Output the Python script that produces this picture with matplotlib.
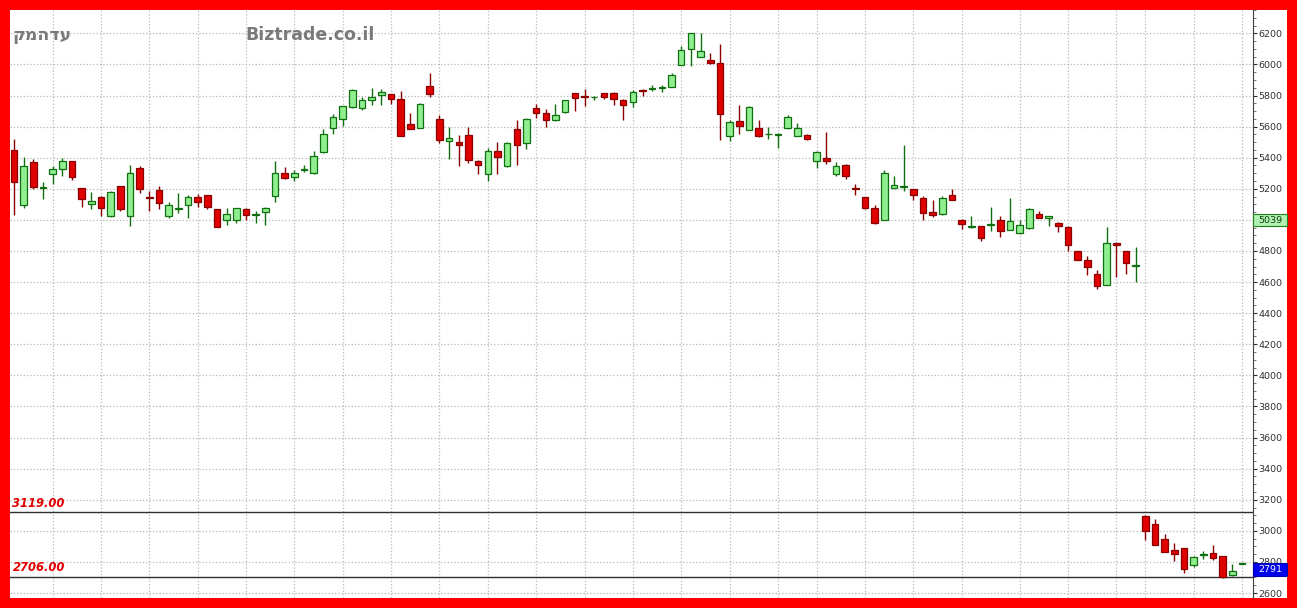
import numpy as np
import matplotlib.pyplot as plt
import matplotlib.transforms as mtransforms
from matplotlib.patches import Rectangle
from matplotlib.ticker import MultipleLocator

# OHLC values (one per session)
opens = [5452, 5097, 5372, 5204, 5295, 5327, 5376, 5202, 5101, 5150,
         5022, 5215, 5022, 5333, 5150, 5194, 5022, 5069, 5097, 5150,
         5159, 5069, 5000, 5000, 5071, 5032, 5049, 5155, 5301, 5275,
         5318, 5301, 5434, 5591, 5649, 5724, 5720, 5774, 5806, 5810,
         5780, 5615, 5593, 5860, 5647, 5507, 5499, 5544, 5380, 5292,
         5441, 5346, 5583, 5494, 5720, 5690, 5641, 5695, 5813, 5800,
         5790, 5813, 5819, 5770, 5759, 5836, 5839, 5847, 5856, 5996,
         6097, 6049, 6030, 6011, 5540, 5634, 5580, 5593, 5550, 5548,
         5593, 5542, 5548, 5378, 5400, 5292, 5353, 5204, 5146, 5077,
         4998, 5202, 5213, 5196, 5138, 5049, 5039, 5159, 5002, 4955,
         4959, 4970, 5002, 4937, 4916, 4948, 5041, 5013, 4981, 4953,
         4798, 4744, 4651, 4578, 4851, 4798, 4705, 3094, 3045, 2949,
         2874, 2891, 2781, 2846, 2859, 2837, 2715, 2787]
highs = [5520, 5402, 5391, 5241, 5344, 5396, 5381, 5204, 5178, 5155,
         5189, 5221, 5355, 5348, 5189, 5215, 5112, 5176, 5157, 5166,
         5161, 5071, 5075, 5075, 5075, 5058, 5086, 5376, 5338, 5318,
         5355, 5441, 5585, 5681, 5735, 5843, 5791, 5849, 5843, 5810,
         5832, 5690, 5752, 5942, 5677, 5598, 5544, 5598, 5383, 5462,
         5501, 5501, 5641, 5658, 5748, 5716, 5748, 5774, 5817, 5841,
         5800, 5817, 5824, 5776, 5834, 5843, 5867, 5867, 5948, 6118,
         6204, 6200, 6071, 6129, 5641, 5738, 5731, 5641, 5598, 5561,
         5673, 5626, 5555, 5441, 5565, 5372, 5357, 5228, 5148, 5094,
         5320, 5282, 5482, 5200, 5153, 5131, 5153, 5200, 5006, 5024,
         4963, 5082, 5028, 5142, 5002, 5077, 5060, 5028, 4985, 4959,
         4802, 4770, 4679, 4955, 4856, 4802, 4823, 3103, 3073, 2981,
         2923, 2891, 2835, 2869, 2910, 2841, 2788, 2794]
lows = [5032, 5075, 5198, 5133, 5232, 5284, 5254, 5082, 5069, 5026,
        5017, 5060, 4963, 5172, 5060, 5071, 5011, 5047, 5015, 5086,
        5071, 4953, 4968, 4978, 5000, 4978, 4968, 5114, 5264, 5247,
        5305, 5297, 5430, 5555, 5606, 5720, 5705, 5737, 5737, 5746,
        5537, 5587, 5593, 5791, 5497, 5393, 5346, 5365, 5292, 5247,
        5292, 5340, 5350, 5458, 5658, 5598, 5636, 5690, 5699, 5731,
        5770, 5776, 5738, 5645, 5727, 5796, 5830, 5824, 5856, 5996,
        5991, 6049, 6000, 5512, 5507, 5550, 5576, 5533, 5523, 5462,
        5583, 5537, 5516, 5333, 5361, 5282, 5260, 5159, 5071, 4974,
        4998, 5202, 5189, 5127, 4998, 5019, 5034, 5125, 4942, 4950,
        4862, 4931, 4890, 4937, 4912, 4942, 5009, 4959, 4922, 4798,
        4740, 4647, 4555, 4578, 4632, 4654, 4598, 2944, 2906, 2863,
        2809, 2730, 2766, 2820, 2814, 2698, 2711, 2786]
closes = [5241, 5344, 5209, 5212, 5327, 5381, 5275, 5133, 5123, 5075,
          5178, 5069, 5301, 5200, 5140, 5108, 5097, 5075, 5150, 5114,
          5080, 4957, 5037, 5075, 5032, 5039, 5075, 5301, 5269, 5301,
          5329, 5408, 5555, 5662, 5731, 5838, 5774, 5791, 5823, 5778,
          5537, 5587, 5748, 5809, 5512, 5529, 5482, 5383, 5355, 5441,
          5404, 5497, 5479, 5647, 5690, 5641, 5677, 5770, 5781, 5793,
          5792, 5793, 5776, 5742, 5824, 5828, 5847, 5854, 5931, 6092,
          6204, 6086, 6006, 5679, 5630, 5602, 5727, 5540, 5552, 5555,
          5662, 5591, 5518, 5436, 5378, 5346, 5282, 5200, 5075, 4978,
          5303, 5224, 5221, 5159, 5045, 5034, 5138, 5127, 4974, 4963,
          4882, 4972, 4927, 4996, 4970, 5067, 5013, 5024, 4959, 4841,
          4744, 4694, 4572, 4851, 4841, 4722, 4708, 2998, 2906, 2863,
          2852, 2756, 2831, 2852, 2826, 2706, 2739, 2791]

grid_idx = [4, 9, 14, 19, 24, 29, 34, 39, 44, 49, 54, 59, 64, 69, 74, 79,
            83, 88, 93, 98, 104, 109, 114, 117, 122, 127]
levels = [3119.00, 2706.00]
last_labels = [(5039, '5039'), (2791, '2791')]

W, H = 1297, 608
fig = plt.figure(figsize=(W / 100, H / 100), dpi=100)
fig.patch.set_facecolor('#ff0000')
fig.add_artist(Rectangle((10 / W, 10 / H), 1277 / W, 588 / H,
                         transform=fig.transFigure, facecolor='white',
                         edgecolor='none', zorder=0))
ax = fig.add_axes([10 / W, 10 / H, 1243 / W, 588 / H])
ax.set_facecolor('white')

x = np.arange(len(opens))
o = np.array(opens, float)
c = np.array(closes, float)
up = c >= o
fill = np.where(up, '#90ee90', '#e00000')
edge = np.where(up, '#107010', '#8a0000')

ax.vlines(x, lows, highs, colors=edge, lw=1, zorder=2)
bottom = np.minimum(o, c)
height = np.maximum(np.abs(c - o), 3)
ax.bar(x, height, bottom=bottom, width=0.68, color=fill, edgecolor=edge,
       linewidth=0.9, zorder=3)

for lv in levels:
    ax.axhline(lv, color='#303030', lw=1, zorder=1)
    ax.annotate(f'{lv:.2f}', xy=(0.002, lv), xycoords=('axes fraction', 'data'),
                xytext=(0, 2), textcoords='offset points', ha='left', va='bottom',
                color='#e00000', fontsize=8.3, fontweight='bold', style='italic')

ax.set_xlim(-0.41, 128.13)
ax.set_ylim(2568, 6350)
for s in ['top', 'left', 'bottom']:
    ax.spines[s].set_visible(False)
ax.spines['right'].set_color('#404040')

ax.yaxis.tick_right()
ax.set_yticks(np.arange(2600, 6201, 200))
ax.yaxis.set_minor_locator(MultipleLocator(50))
ax.tick_params(axis='y', which='major', labelsize=6.8, length=3, pad=1, colors='#303030')
ax.tick_params(axis='y', which='minor', length=2, colors='#606060')
ax.set_xticks(grid_idx)
ax.tick_params(axis='x', length=0, labelbottom=False)
ax.grid(True, which='major', color='#b8b8b8', linestyle=':', lw=0.9)
ax.set_axisbelow(True)

# value boxes on the price axis
trans = mtransforms.blended_transform_factory(ax.transAxes, ax.transData)
box_w = 34 / 1243
box_h = 12.5 * 6.43
for (val, txt), fc, ec, tc in zip(last_labels, ['#b0f0b0', '#0000ee'],
                                   ['#208020', '#0000aa'], ['#104010', 'white']):
    ax.add_patch(Rectangle((1.0, val - box_h), box_w, box_h, transform=trans,
                           facecolor=fc, edgecolor=ec, lw=0.8, clip_on=False, zorder=5))
    ax.text(1.0 + box_w / 2, val - box_h / 2, txt, transform=trans, ha='center',
            va='center', fontsize=6.8, color=tc, zorder=6, clip_on=False)

fig.text(12 / W, 1 - 35 / H, 'קמהדע', ha='left', va='center', fontsize=12.5,
         color='#7a7a7a', fontweight='bold')
fig.text(245 / W, 1 - 35 / H, 'Biztrade.co.il', ha='left', va='center',
         fontsize=12.5, color='#7a7a7a', fontweight='bold')

fig.savefig('out.png', dpi=100, facecolor=fig.get_facecolor())
